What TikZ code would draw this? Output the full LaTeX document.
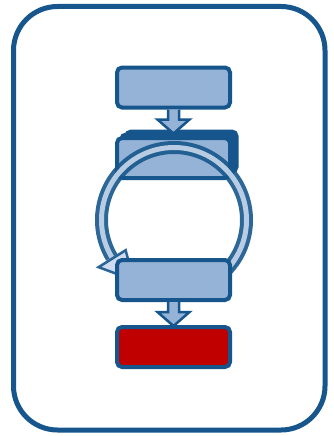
\documentclass[tikz,border=0pt]{standalone}
\usetikzlibrary{calc}
\definecolor{dk}{RGB}{22,86,140}
\definecolor{lt}{RGB}{149,179,215}
\definecolor{lt2}{RGB}{200,216,236}
\definecolor{rd}{RGB}{192,0,0}
\tikzset{
  boxst/.style={draw=dk,line width=4pt,fill=lt,rounded corners=5pt,minimum width=113pt,minimum height=40pt,inner sep=0pt},
  arrst/.style={draw=dk,line width=2.5pt,fill=lt,line join=miter},
}
\begin{document}
\begin{tikzpicture}[x=1pt,y=-1pt]
\useasboundingbox (0,0) rectangle (333,436);
% outer frame
\draw[dk,line width=5pt,rounded corners=44pt] (13.5,6.5) rectangle (325,430);
% stacked box back layers
\draw[draw=dk,fill=dk,line width=3pt,rounded corners=5pt] (126,131) rectangle (237,172);
\draw[draw=dk,fill=dk,line width=3pt,rounded corners=5pt] (121,134) rectangle (234,175);
\node[boxst] (s) at (173.5,158) {};
% circular arrow
\begin{scope}[opacity=0.9]
\draw[dk,line width=13pt] (174,220) ++(50:72.5) arc[start angle=50,end angle=-211,radius=72.5];
\draw[lt2,line width=5pt] (174,220) ++(50:72.5) arc[start angle=50,end angle=-211,radius=72.5];
\draw[draw=dk,fill=lt2,line width=2.5pt,line join=miter]
  ($(174,220)+(148:89)$) -- ($(174,220)+(124:72.5)$) -- ($(174,220)+(148:57)$) -- cycle;
\end{scope}
% top box
\node[boxst] (a) at (173.5,87.5) {};
% bottom box
\node[boxst] (b) at (173.5,280) {};
% red box
\node[boxst,fill=rd] (c) at (173.5,347) {};
% block arrows
\draw[arrst] ($(a.south)+(-5.5,0)$) -- ++(0,10) -- ++(-10.5,0) -- ($(a.south)+(0,24)$) -- ++(16,-14) -- ++(-10.5,0) -- ++(0,-10);
\draw[arrst] ($(b.south)+(-5.5,0)$) -- ++(0,10) -- ++(-10.5,0) -- ($(b.south)+(0,24)$) -- ++(16,-14) -- ++(-10.5,0) -- ++(0,-10);
\end{tikzpicture}
\end{document}
